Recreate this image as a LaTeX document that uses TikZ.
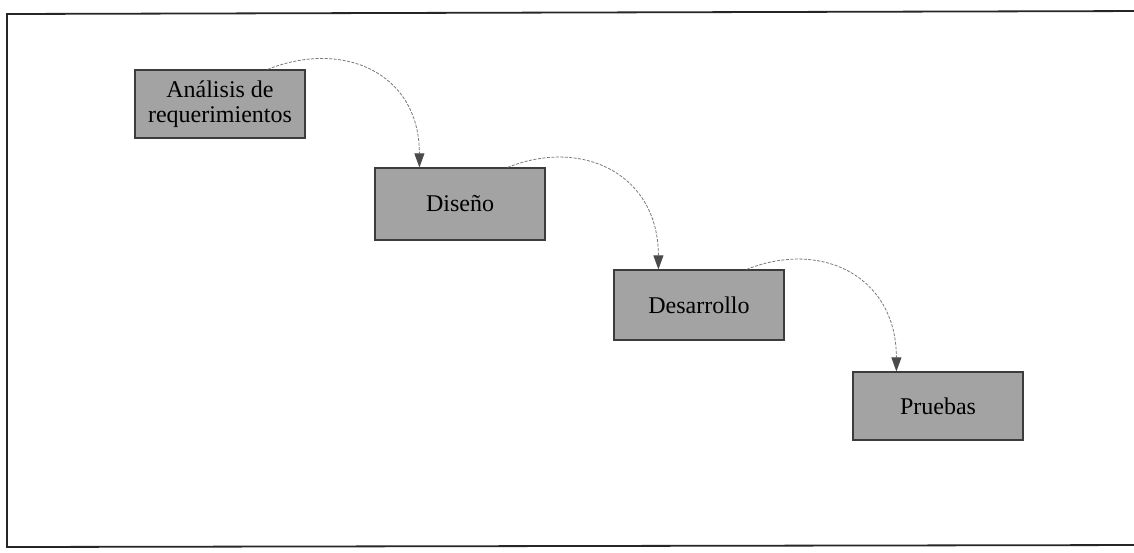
\documentclass[tikz,border=0pt]{standalone}
\usepackage{fontspec}
\setmainfont{Liberation Serif}
\usetikzlibrary{arrows.meta}
\definecolor{boxgray}{HTML}{A3A3A3}
\definecolor{boxedge}{HTML}{3C3C3C}
\definecolor{linkgray}{HTML}{7A7A7A}
\definecolor{tipgray}{HTML}{4A4A4A}
\begin{document}
\begin{tikzpicture}[x=1pt,y=-1pt,
  stagebox/.style={draw=boxedge,line width=1.2pt,fill=boxgray,minimum width=170pt,
    inner sep=0pt,align=center,font=\fontsize{24}{25}\selectfont},
  link/.style={draw=linkgray,line width=0.8pt,dash pattern=on 3pt off 1.5pt,
    -{Triangle[length=14pt,width=10pt,fill=tipgray,color=tipgray]}}]
\useasboundingbox (0,0) rectangle (1134,552);
\fill[white] (0,0) rectangle (1134,552);
\begin{scope}
\clip (0,0) rectangle (1134,552);
\draw[line width=1.8pt,black!85] (1150,11) -- (7,14) -- (7,547) -- (1150,545);
\end{scope}
\node[stagebox,minimum height=68pt] (a) at (220,104) {Análisis de\\requerimientos};
\node[stagebox,minimum height=72pt] (d) at (460,204) {Diseño};
\node[stagebox,minimum height=70pt] (r) at (699,305) {Desarrollo};
\node[stagebox,minimum height=68pt] (p) at (938,406) {Pruebas};
\draw[link] ([xshift=-38pt]a.north east) .. controls +(75,-30) and +(0,-95) .. ([xshift=45pt]d.north west);
\draw[link] ([xshift=-38pt]d.north east) .. controls +(75,-30) and +(0,-95) .. ([xshift=45pt]r.north west);
\draw[link] ([xshift=-38pt]r.north east) .. controls +(75,-30) and +(0,-95) .. ([xshift=44pt]p.north west);
\end{tikzpicture}
\end{document}
